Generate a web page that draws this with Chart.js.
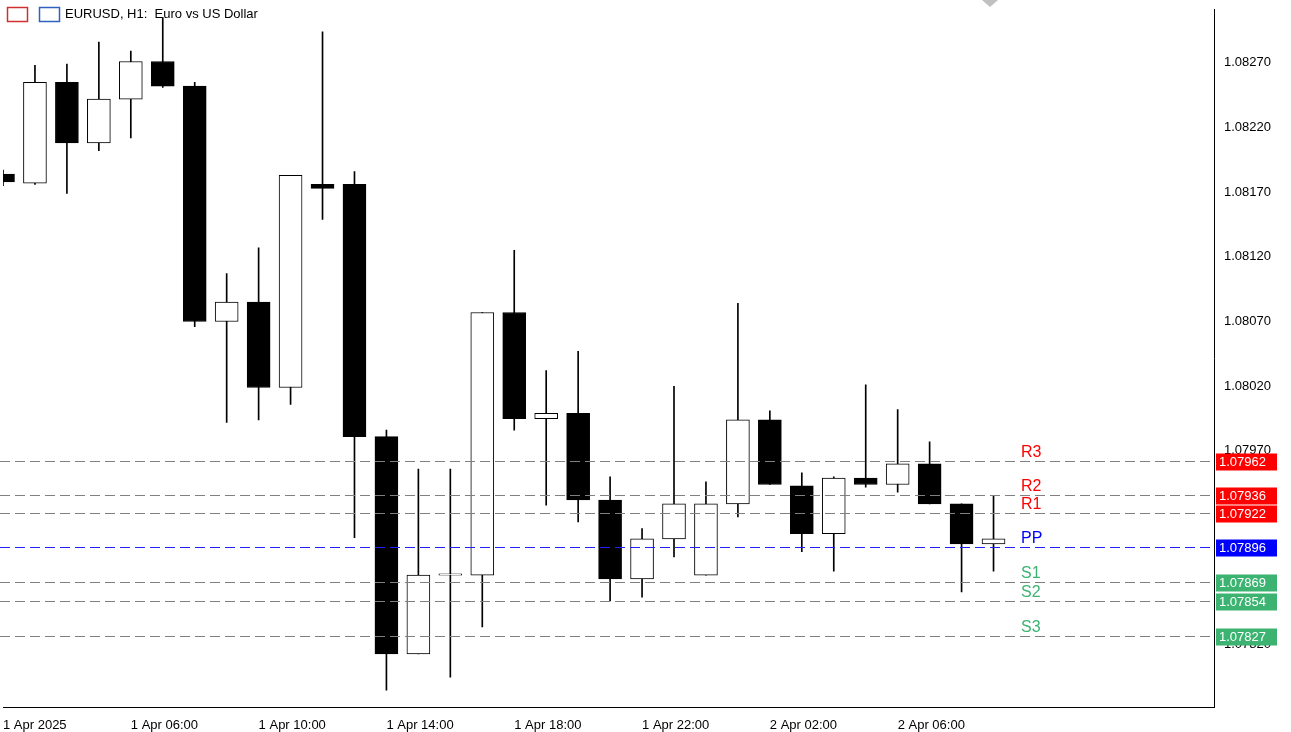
<!DOCTYPE html>
<html>
<head>
<meta charset="utf-8">
<script src="https://cdn.jsdelivr.net/npm/chart.js@4.4.0/dist/chart.umd.min.js"></script>
<style>
  html, body { margin: 0; padding: 0; background: #fff; }
  #wrap { width: 1291px; height: 732px; }
</style>
</head>
<body>
<div id="wrap"><canvas id="c"></canvas></div>
<script>
// EURUSD H1 candles, 1 Apr 02:00 .. 2 Apr 09:00
var times = ["1 Apr 2025","1 Apr 03:00","1 Apr 04:00","1 Apr 05:00","1 Apr 06:00","1 Apr 07:00","1 Apr 08:00","1 Apr 09:00",
  "1 Apr 10:00","1 Apr 11:00","1 Apr 12:00","1 Apr 13:00","1 Apr 14:00","1 Apr 15:00","1 Apr 16:00","1 Apr 17:00",
  "1 Apr 18:00","1 Apr 19:00","1 Apr 20:00","1 Apr 21:00","1 Apr 22:00","1 Apr 23:00","2 Apr 00:00","2 Apr 01:00",
  "2 Apr 02:00","2 Apr 03:00","2 Apr 04:00","2 Apr 05:00","2 Apr 06:00","2 Apr 07:00","2 Apr 08:00","2 Apr 09:00"];
var opens  = [1.08184,1.08177,1.08255,1.08208,1.08242,1.08271,1.08252,1.08070,1.08085,1.08019,1.08176,1.08176,1.07981,1.07813,1.07874,1.07874,
  1.08077,1.07995,1.07999,1.07932,1.07871,1.07902,1.07874,1.07929,1.07994,1.07943,1.07906,1.07949,1.07944,1.07960,1.07929,1.07898];
var highs  = [1.08187,1.08268,1.08269,1.08286,1.08279,1.08305,1.08255,1.08107,1.08127,1.08183,1.08294,1.08186,1.07986,1.07956,1.07956,1.08077,
  1.08125,1.08032,1.08047,1.07950,1.07910,1.08020,1.07946,1.08084,1.08001,1.07953,1.07950,1.08021,1.08002,1.07977,1.07929,1.07935];
var lows   = [1.08175,1.08176,1.08169,1.08202,1.08212,1.08251,1.08066,1.07992,1.07994,1.08006,1.08149,1.07903,1.07785,1.07813,1.07795,1.07834,
  1.07986,1.07928,1.07915,1.07854,1.07857,1.07888,1.07874,1.07919,1.07944,1.07892,1.07877,1.07942,1.07938,1.07929,1.07861,1.07877];
var closes = [1.08178,1.08255,1.08208,1.08242,1.08271,1.08252,1.08070,1.08085,1.08019,1.08183,1.08173,1.07981,1.07813,1.07874,1.07875,1.08077,
  1.07995,1.07999,1.07932,1.07871,1.07902,1.07929,1.07929,1.07994,1.07944,1.07906,1.07949,1.07944,1.07960,1.07929,1.07898,1.07902];

var levelNames  = ["R3","R2","R1","PP","S1","S2","S3"];
var levelValues = [1.07962,1.07936,1.07922,1.07896,1.07869,1.07854,1.07827];
var levelColors = ["#ff0000","#ff0000","#ff0000","#0000ff","#3cb371","#3cb371","#3cb371"];

var bodies = opens.map(function (o, i) { return { x: i, y: [o, closes[i]] }; });
var wicks = highs.map(function (h, i) { return { x: i, y: [lows[i], h] }; });
var bodyFill = opens.map(function (o, i) { return closes[i] >= o ? "#ffffff" : "#000000"; });

var levelsPlugin = {
  id: "levels",
  afterDatasetsDraw: function (chart) {
    var ctx = chart.ctx, y = chart.scales.y, a = chart.chartArea;
    ctx.save();
    levelValues.forEach(function (v, i) {
      var py = Math.round(y.getPixelForValue(v)) + 0.5;
      ctx.strokeStyle = levelNames[i] === "PP" ? "#2020ff" : "#808080";
      ctx.lineWidth = 1;
      ctx.setLineDash([10, 5]);
      ctx.beginPath(); ctx.moveTo(0, py); ctx.lineTo(a.right, py); ctx.stroke();
      ctx.setLineDash([]);
      ctx.font = "16px 'Liberation Sans', Arial, sans-serif";
      ctx.fillStyle = levelColors[i];
      ctx.textAlign = "left"; ctx.textBaseline = "bottom";
      ctx.fillText(levelNames[i], 1021, py - 1);
      ctx.fillStyle = levelColors[i];
      ctx.fillRect(a.right + 2, py - 8, 61, 17);
      ctx.fillStyle = "#ffffff";
      ctx.font = "13px 'Liberation Sans', Arial, sans-serif";
      ctx.textBaseline = "middle";
      ctx.fillText(v.toFixed(5), a.right + 5, py + 1);
    });
    ctx.fillStyle = "#000";
    ctx.font = "13px 'Liberation Sans', Arial, sans-serif";
    ctx.textBaseline = "middle";
    ctx.fillText("EURUSD, H1:  Euro vs US Dollar", 65, 14);
    ctx.strokeStyle = "#d03030"; ctx.lineWidth = 1.5;
    ctx.strokeRect(7.5, 7.5, 20, 14);
    ctx.strokeStyle = "#3060c0"; ctx.strokeRect(39.5, 7.5, 20, 14);
    ctx.fillStyle = "#c0c0c0";
    ctx.beginPath(); ctx.moveTo(982, 0); ctx.lineTo(998, 0); ctx.lineTo(990, 7); ctx.fill();
    ctx.restore();
  }
};

new Chart(document.getElementById("c"), {
  type: "bar",
  data: {
    datasets: [
      { data: bodies, backgroundColor: bodyFill, borderColor: "#000", borderWidth: 1, borderSkipped: false,
        barThickness: 23, grouped: false, order: 1 },
      { data: wicks, backgroundColor: "#000", borderWidth: 0, barThickness: 1, grouped: false, order: 2 }
    ]
  },
  options: {
    responsive: true, maintainAspectRatio: false, animation: false,
    layout: { padding: 0 },
    plugins: { legend: { display: false }, tooltip: { enabled: false } },
    scales: {
      x: {
        type: "linear", min: 0, max: 37.9, offset: false,
        grid: { display: false },
        border: { color: "#000" },
        afterBuildTicks: function (s) {
          s.ticks = [0, 4, 8, 12, 16, 20, 24, 28].map(function (v) { return { value: v }; });
        },
        ticks: {
          color: "#000", maxRotation: 0, autoSkip: false, align: "start",
          font: { family: "'Liberation Sans', Arial, sans-serif", size: 13 },
          callback: function (v) { return times[v]; }
        },
        afterFit: function (s) { s.height = 25; }
      },
      y: {
        position: "right", min: 1.07772, max: 1.08311,
        grid: { display: false },
        border: { color: "#000" },
        afterBuildTicks: function (s) {
          var t = [];
          for (var k = 0; k < 10; k++) t.push({ value: 1.07820 + k * 0.0005 });
          s.ticks = t;
        },
        ticks: {
          color: "#000", padding: 2, font: { family: "'Liberation Sans', Arial, sans-serif", size: 13 },
          callback: function (v) { return v.toFixed(5); }
        },
        afterFit: function (s) { s.width = 77; }
      }
    }
  },
  plugins: [levelsPlugin]
});
</script>
</body>
</html>
